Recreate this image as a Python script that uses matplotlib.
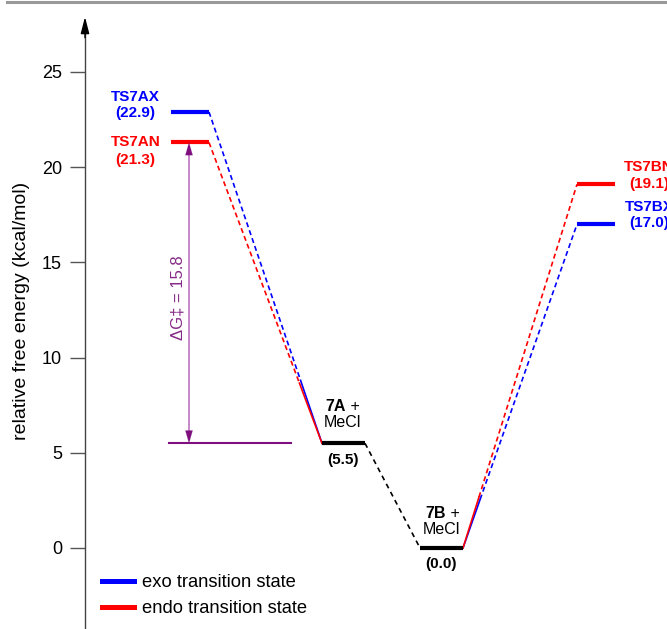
import matplotlib
matplotlib.use("Agg")
import matplotlib.pyplot as plt
from matplotlib.lines import Line2D

plt.rcParams['font.family'] = ['Liberation Sans', 'DejaVu Sans']

# energies (kcal/mol)
species = ['TS7AX', 'TS7AN', '7A', '7B', 'TS7BN', 'TS7BX']
energies = [22.9, 21.3, 5.5, 0.0, 19.1, 17.0]
level_colors = ['blue', 'red', 'black', 'black', 'red', 'blue']
dG_barrier = 15.8

# layout: horizontal extent of each level on the reaction coordinate
level_x = {'TS7AX': (171, 209), 'TS7AN': (171, 209),
           '7A': (322, 365), '7B': (420, 463),
           'TS7BN': (577, 615), 'TS7BX': (577, 615)}
E = dict(zip(species, energies))

fig = plt.figure(figsize=(6.67, 6.29), dpi=100)
ax = fig.add_axes([0, 0, 1, 1])
ax.set_xlim(0, 667)
ax.set_ylim(-4.254, 28.78)

# y axis
for s in ['top', 'right', 'bottom']:
    ax.spines[s].set_visible(False)
ax.spines['left'].set_position(('data', 85))
ax.spines['left'].set_bounds(-4.3, 27.0)
ax.spines['left'].set_color('#444444')
ax.spines['left'].set_linewidth(1.0)
ax.set_xticks([])
ax.set_yticks([0, 5, 10, 15, 20, 25])
ax.tick_params(axis='y', direction='out', length=10.8, width=1.0,
               color='#555555', labelsize=13, pad=5.8)
ax.annotate('', xy=(85, 27.89), xytext=(85, 26.8),
            arrowprops=dict(arrowstyle='-|>,head_length=0.5,head_width=0.13',
                            mutation_scale=20, color='black', lw=1.0,
                            shrinkA=0, shrinkB=0))
ax.text(22, 12.45, 'relative free energy (kcal/mol)', rotation=90,
        ha='center', va='center', fontsize=14)

# grey rule at the top
ax.plot([7, 667], [28.70, 28.70], color='#999999', lw=2.2, clip_on=False)


def connect(x0, y0, x1, y1, color, solid_frac, solid_at_end):
    # dashed connector, solid near the lower level
    if solid_at_end:
        xm = x0 + (x1 - x0) * (1 - solid_frac)
        ym = y0 + (y1 - y0) * (1 - solid_frac)
        ax.plot([x0, xm], [y0, ym], color=color, lw=1.2, dashes=(3, 2))
        ax.plot([xm, x1], [ym, y1], color=color, lw=1.2)
    else:
        xm = x0 + (x1 - x0) * solid_frac
        ym = y0 + (y1 - y0) * solid_frac
        ax.plot([x0, xm], [y0, ym], color=color, lw=1.2)
        ax.plot([xm, x1], [ym, y1], color=color, lw=1.2, dashes=(3, 2))


# connectors
connect(level_x['TS7AX'][1], E['TS7AX'], level_x['7A'][0], E['7A'], 'blue', 0.19, True)
connect(level_x['TS7AN'][1], E['TS7AN'], level_x['7A'][0], E['7A'], 'red', 0.20, True)
connect(level_x['7B'][1], E['7B'], level_x['TS7BX'][0], E['TS7BX'], 'blue', 0.15, False)
connect(level_x['7B'][1], E['7B'], level_x['TS7BN'][0], E['TS7BN'], 'red', 0.14, False)
ax.plot([level_x['7A'][1], level_x['7B'][0]], [E['7A'], E['7B']],
        color='black', lw=1.2, dashes=(3, 2.5))

# levels
for s, c in zip(species, level_colors):
    ax.plot(level_x[s], [E[s], E[s]], color=c, lw=3, solid_capstyle='butt')

# labels of transition states
ts_label_pos = {'TS7AX': (135.5, 23.71, 22.87), 'TS7AN': (135.5, 21.30, 20.40),
                'TS7BN': (649, 20.01, 19.12), 'TS7BX': (649, 17.91, 17.07)}
for s, c in zip(species, level_colors):
    if s not in ts_label_pos:
        continue
    x, yn, yv = ts_label_pos[s]
    ax.text(x, yn, s, color=c, fontsize=11, fontweight='bold', ha='center', va='center')
    ax.text(x, yv, '(%.1f)' % E[s], color=c, fontsize=11, fontweight='bold',
            ha='center', va='center')

# labels of intermediates
int_label_pos = {'7A': (345.5, 342.5, 7.43, 6.59, 4.62),
                 '7B': (445.5, 441.5, 1.81, 0.97, -0.84)}
for s, (xs, xc, y1, y2, y3) in int_label_pos.items():
    ax.text(xs, y1, s, fontsize=11.5, fontweight='bold', ha='right', va='center')
    ax.text(xs, y1, ' +', fontsize=11.5, ha='left', va='center')
    ax.text(xc, y2, 'MeCl', fontsize=11.5, ha='center', va='center')
    ax.text(xc, y3, '(%.1f)' % E[s], fontsize=11, fontweight='bold',
            ha='center', va='center')

# activation barrier
purple = '#7f0f7f'
ax.plot([169, 291], [E['7A'], E['7A']], color=purple, lw=1.5)
ax.plot([189, 189], [E['7A'] + 0.5, E['TS7AN'] - 0.5], color='#c27fc7', lw=1.3)
for y0, y1 in [(E['7A'] + 0.7, E['7A']), (E['TS7AN'] - 0.7, E['TS7AN'])]:
    ax.annotate('', xy=(189, y1), xytext=(189, y0),
                arrowprops=dict(arrowstyle='-|>,head_length=0.45,head_width=0.13',
                                mutation_scale=20, color=purple, lw=0.1,
                                shrinkA=0, shrinkB=0))
ax.text(177.5, 13.13, '\u0394G\u2021 = %.1f' % dG_barrier, rotation=90, color='#862a86',
        fontsize=12, ha='center', va='center')

# legend
handles = [Line2D([], [], color='blue', lw=3.6),
           Line2D([], [], color='red', lw=3.6)]
ax.legend(handles, ['exo transition state', 'endo transition state'],
          loc='upper left', bbox_to_anchor=(102 / 667, 1 - 574 / 629),
          frameon=False, fontsize=13.2, handlelength=1.75, handletextpad=0.44,
          labelspacing=0.5, borderpad=0, borderaxespad=0)

fig.savefig('out.png', dpi=100)
